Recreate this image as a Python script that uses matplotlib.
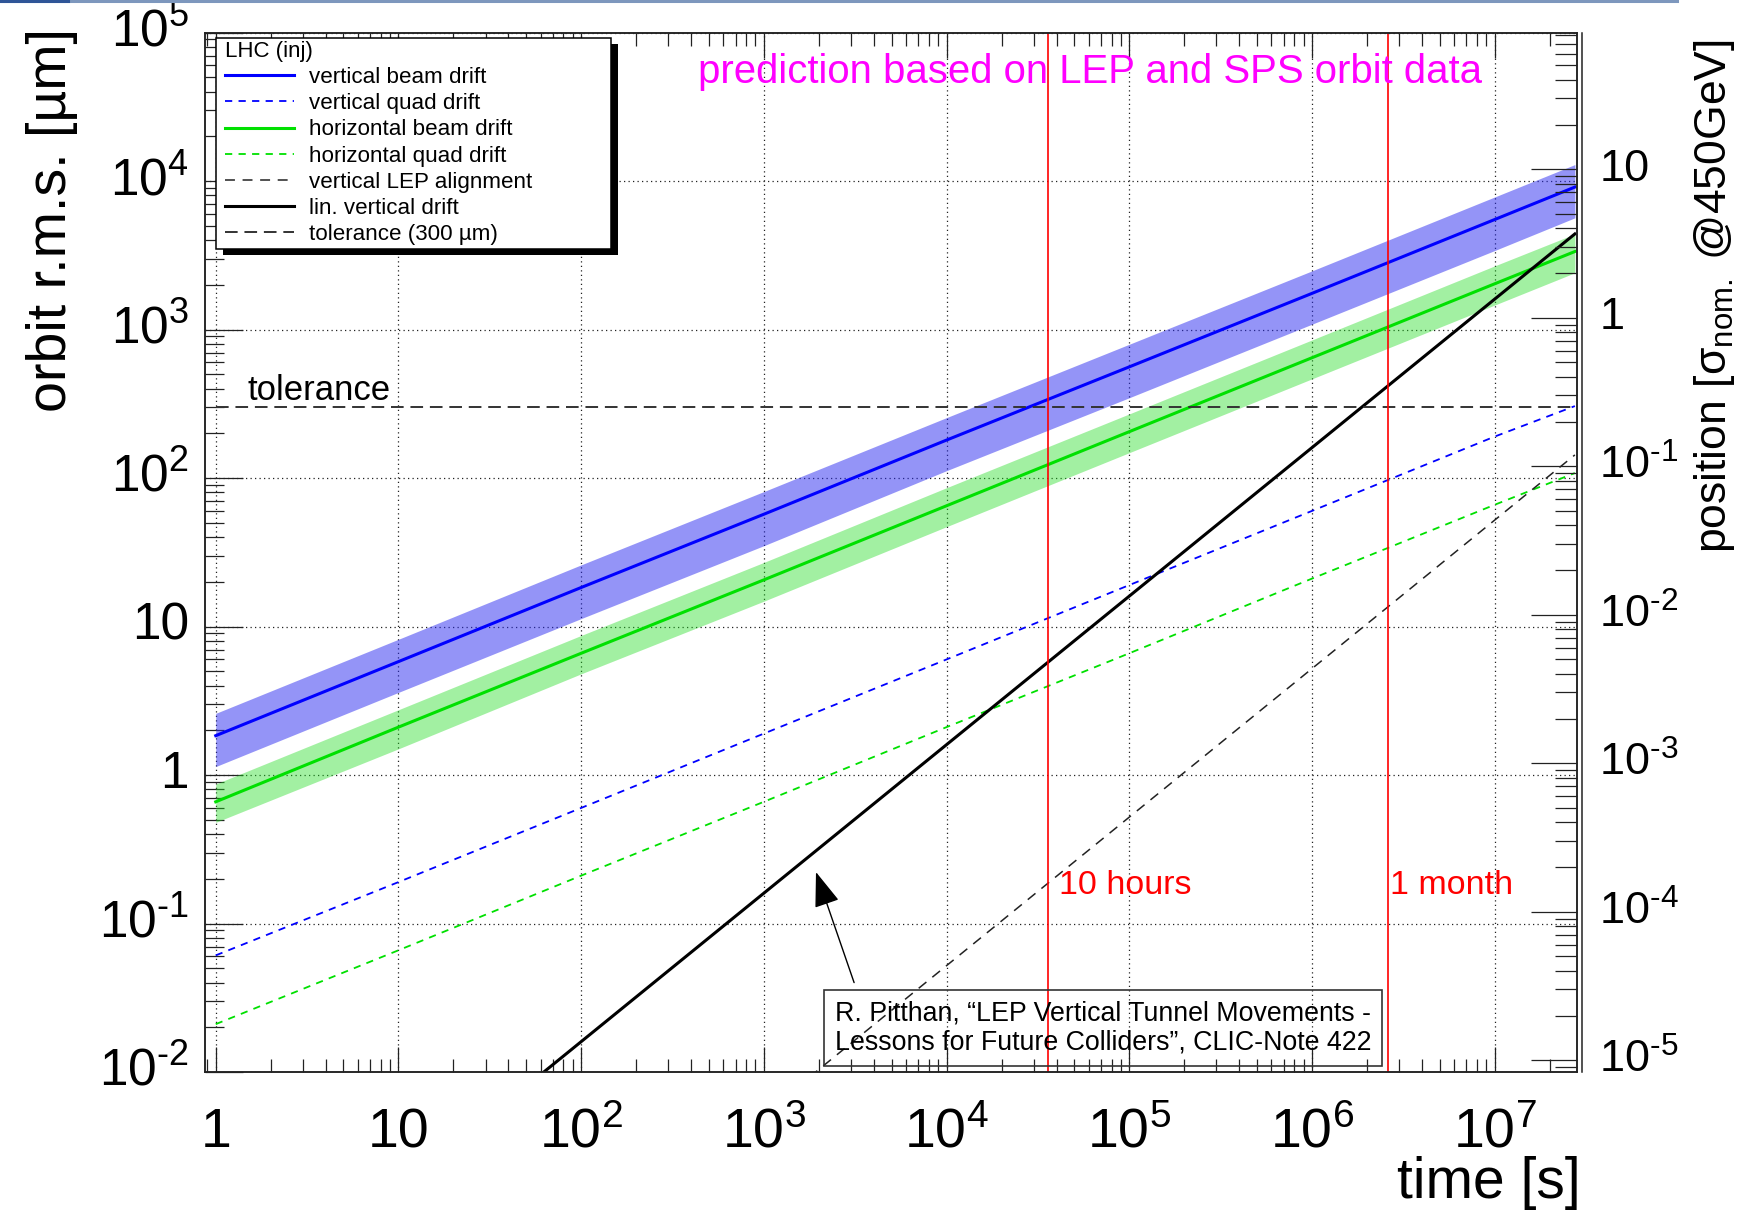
"""
LHC (injection) orbit drift prediction, based on LEP and SPS orbit data.
Log-log plot of orbit r.m.s. vs. time, with beam-size axis on the right.
"""

import numpy as np
import matplotlib
matplotlib.use("Agg")          # no display
import matplotlib.pyplot as plt
from matplotlib.ticker import LogLocator, NullFormatter
from matplotlib.patches import Rectangle
from matplotlib.lines import Line2D

plt.rcParams["font.family"] = ["Liberation Sans", "DejaVu Sans"]
plt.rcParams["mathtext.fontset"] = "custom"
plt.rcParams["mathtext.rm"] = "Liberation Sans"
plt.rcParams["mathtext.it"] = "Liberation Sans:italic"
plt.rcParams["mathtext.default"] = "regular"

# ── Data (µm vs s) ────────────────────────────────────────────────────────────
T          = [1, 10, 1e2, 1e3, 1e4, 1e5, 1e6, 1e7, 2.75e7]
V_BEAM     = [1.84, 5.8, 18.3, 57, 180, 560, 1750, 5500, 9100]
V_BEAM_HI  = [2.6, 8.2, 26, 81, 255, 795, 2480, 7800, 12900]
V_BEAM_LO  = [1.14, 3.6, 11.3, 35, 112, 347, 1085, 3400, 5650]
H_BEAM     = [0.66, 2.1, 6.6, 20.6, 65, 205, 645, 2030, 3350]
H_BEAM_HI  = [0.87, 2.75, 8.7, 27, 86, 270, 850, 2680, 4400]
H_BEAM_LO  = [0.48, 1.5, 4.8, 14.8, 47, 148, 465, 1460, 2410]
V_QUAD     = [0.061, 0.19, 0.6, 1.9, 6.0, 19, 60, 190, 305]
H_QUAD     = [0.021, 0.066, 0.21, 0.66, 2.1, 6.6, 21, 66, 108]

T_LIN      = [50, 1e2, 1e3, 1e4, 1e5, 1e6, 1e7, 2.75e7]
LIN_DRIFT  = [0.008, 0.016, 0.16, 1.6, 16, 160, 1600, 4400]

T_LEP      = [1.5e3, 1e4, 1e5, 1e6, 1e7, 2.75e7]
LEP_ALIGN  = [0.0078, 0.052, 0.52, 5.2, 52, 143]

T_TOL      = [1, 2.75e7]
TOLERANCE  = [300, 300]

EVENT_T      = [3.6e4, 2.6e6]
EVENT_LABELS = ["10 hours", "1 month"]

SIGMA_NOM = 1200.0     # µm, nominal beam size @450GeV

HY = "\u2010"          # short hyphen, ROOT style exponent sign
X_TICKS  = [1, 10, 1e2, 1e3, 1e4, 1e5, 1e6, 1e7]
X_LABELS = ["1", "10", "$10^{2}$", "$10^{3}$", "$10^{4}$", "$10^{5}$", "$10^{6}$", "$10^{7}$"]
Y_TICKS  = [1e-2, 1e-1, 1, 10, 1e2, 1e3, 1e4, 1e5]
Y_LABELS = [f"$10^{{{HY}2}}$", f"$10^{{{HY}1}}$", "1", "10",
            "$10^{2}$", "$10^{3}$", "$10^{4}$", "$10^{5}$"]
R_TICKS  = [1e-5, 1e-4, 1e-3, 1e-2, 1e-1, 1, 10]
R_LABELS = [f"$10^{{{HY}5}}$", f"$10^{{{HY}4}}$", f"$10^{{{HY}3}}$",
            f"$10^{{{HY}2}}$", f"$10^{{{HY}1}}$", "1", "10"]

# ── Layout (figure pixels) ─────────────────────────────────────────────────────
FW, FH = 1758, 1218
AX_L, AX_R, AX_T, AX_B = 205.5, 1577, 32.5, 1072

BLUE  = "#0000ff"
GREEN = "#00e000"
FRAME = "#222222"

fig = plt.figure(figsize=(FW / 100, FH / 100), dpi=100)
ax = fig.add_axes([AX_L / FW, 1 - AX_B / FH, (AX_R - AX_L) / FW, (AX_B - AX_T) / FH])
ax.set_xscale("log")
ax.set_yscale("log")
ax.set_xlim(0.879, 2.825e7)
ax.set_ylim(1e-2, 1e5)
ax.set_axisbelow(True)

# ── Bands + curves ─────────────────────────────────────────────────────────────
ax.fill_between(T, V_BEAM_LO, V_BEAM_HI, color="#2a2af0", alpha=0.5, lw=0, zorder=1)
ax.fill_between(T, H_BEAM_LO, H_BEAM_HI, color="#22dd22", alpha=0.42, lw=0, zorder=1)

ax.plot(T, V_BEAM, color=BLUE, lw=2.2, label="vertical beam drift")
ax.plot(T, V_QUAD, color=BLUE, lw=1.3, dashes=(4, 3.5), label="vertical quad drift")
ax.plot(T, H_BEAM, color=GREEN, lw=2.2, label="horizontal beam drift")
ax.plot(T, H_QUAD, color=GREEN, lw=1.3, dashes=(4, 3.5), label="horizontal quad drift")
ax.plot(T_LEP, LEP_ALIGN, color=FRAME, lw=1.1, dashes=(6.5, 5), label="vertical LEP alignment")
ax.plot(T_LIN, LIN_DRIFT, color="black", lw=2.2, label="lin. vertical drift")
ax.plot(T_TOL, TOLERANCE, color="#333333", lw=1.4, dashes=(6.5, 3.5), label="tolerance (300 µm)")

for t in EVENT_T:
    ax.axvline(t, color="red", lw=1.2, zorder=2.5)

# ── Axes / ticks ───────────────────────────────────────────────────────────────
ax.set_xticks(X_TICKS, X_LABELS)
ax.set_yticks(Y_TICKS, Y_LABELS)
ax.xaxis.set_minor_locator(LogLocator(base=10, subs=np.arange(2, 10) * 1.0, numticks=60))
ax.yaxis.set_minor_locator(LogLocator(base=10, subs=np.arange(2, 10) * 1.0, numticks=60))
ax.xaxis.set_minor_formatter(NullFormatter())
ax.yaxis.set_minor_formatter(NullFormatter())

ax.tick_params(axis="x", which="major", direction="in", length=18, width=0.9,
               top=True, labelsize=40, pad=54, color=FRAME)
ax.tick_params(axis="x", which="minor", direction="in", length=9.4, width=0.9,
               top=True, color=FRAME)
ax.tick_params(axis="y", which="major", direction="in", length=27, width=0.9,
               right=False, labelsize=37, pad=12, color=FRAME)
ax.tick_params(axis="y", which="minor", direction="in", length=13.7, width=0.9,
               right=False, color=FRAME)
for lbl in ax.get_xticklabels():
    lbl.set_verticalalignment("baseline")
for lbl in ax.get_yticklabels():
    lbl.set_verticalalignment("center")

ax.grid(True, which="major", color=FRAME, lw=0.9, ls=(0, (1, 2.6)))
for s in ax.spines.values():
    s.set_linewidth(1.1)
    s.set_color(FRAME)

# right axis: position in units of nominal sigma
ax2 = ax.twinx()
ax2.set_yscale("log")
ax2.set_ylim(1e-2 / SIGMA_NOM, 1e5 / SIGMA_NOM)
ax2.set_yticks(R_TICKS, R_LABELS)
ax2.yaxis.set_minor_locator(LogLocator(base=10, subs=np.arange(2, 10) * 1.0, numticks=60))
ax2.yaxis.set_minor_formatter(NullFormatter())
ax2.tick_params(axis="y", which="major", direction="in", length=33, width=0.9,
                labelsize=32.5, pad=16, color=FRAME)
ax2.tick_params(axis="y", which="minor", direction="in", length=16, width=0.9, color=FRAME)
for lbl in ax2.get_yticklabels():
    lbl.set_verticalalignment("center")
for s in ax2.spines.values():
    s.set_linewidth(1.1)
    s.set_color(FRAME)
ax.add_line(Line2D([1 + 5 / (AX_R - AX_L)] * 2, [0, 1], transform=ax.transAxes,
                   color=FRAME, lw=1.1, clip_on=False))

# ── Labels ─────────────────────────────────────────────────────────────────────
fig.text(52 / FW, 1 - 28 / FH, "orbit r.m.s. [µm]", rotation=90,
         ha="center", va="top", fontsize=40)
fig.text(1715 / FW, 1 - 39 / FH, "position [σ$_{nom.}$ @450GeV]", rotation=90,
         ha="center", va="top", fontsize=32)
fig.text(1581 / FW, 1 - 1183 / FH, "time [s]", ha="right", va="center", fontsize=41)

# ── Annotations ────────────────────────────────────────────────────────────────
ax.text(436, 5.4e4, "prediction based on LEP and SPS orbit data",
        color="#ff00ff", fontsize=28.9, ha="left", va="center")
ax.text(1.5, 300, "tolerance", fontsize=25, ha="left", va="bottom")
ax.text(EVENT_T[0] * 1.14, 0.18, EVENT_LABELS[0], color="red", fontsize=24.5, va="center")
ax.text(EVENT_T[1] * 1.03, 0.18, EVENT_LABELS[1], color="red", fontsize=24.5, va="center")

ax.text(2450, 0.0198,
        "R. Pitthan, \u201cLEP Vertical Tunnel Movements -\n"
        "Lessons for Future Colliders\u201d, CLIC-Note 422",
        fontsize=19.3, ha="left", va="center", linespacing=1.12, zorder=3,
        bbox=dict(boxstyle="square,pad=0.4", fc="none", ec="#333333", lw=1.2))
ax.annotate("", xy=(1930, 0.222), xytext=(3120, 0.040),
            arrowprops=dict(arrowstyle="-|>,head_length=1.1,head_width=0.4",
                            mutation_scale=20, color="black", lw=1.0,
                            shrinkA=0, shrinkB=0))

# ── Legend (ROOT-style box with solid shadow) ──────────────────────────────────
LEG_L, LEG_R, LEG_T, LEG_B = 216, 611, 38, 249
ax.add_patch(Rectangle(((LEG_L + 7) / FW, 1 - (LEG_B + 6) / FH),
                       (LEG_R - LEG_L) / FW, (LEG_B - LEG_T) / FH,
                       transform=fig.transFigure, fc="black", ec="none",
                       zorder=4.4, clip_on=False))
ax.add_patch(Rectangle((LEG_L / FW, 1 - LEG_B / FH),
                       (LEG_R - LEG_L) / FW, (LEG_B - LEG_T) / FH,
                       transform=fig.transFigure, fc="white", ec="black", lw=1.1,
                       zorder=4.5, clip_on=False))
leg = ax.legend(loc="upper left", bbox_to_anchor=(225 / FW, 1 - 41 / FH),
                bbox_transform=fig.transFigure, borderaxespad=0, borderpad=0,
                frameon=False, fontsize=16.1, title="LHC (inj)", title_fontsize=16,
                alignment="left", handlelength=3.1, handletextpad=0.66,
                labelspacing=0.23)
leg.set_zorder(5)

# thin slide header line at the very top
fig.add_artist(Line2D([0, 1677 / FW], [1 - 1 / FH] * 2, color="#7d97bd", lw=2.2))
fig.add_artist(Line2D([0, 68 / FW], [1 - 1 / FH] * 2, color="#2f5597", lw=2.2))

fig.savefig("out.png", dpi=100)
